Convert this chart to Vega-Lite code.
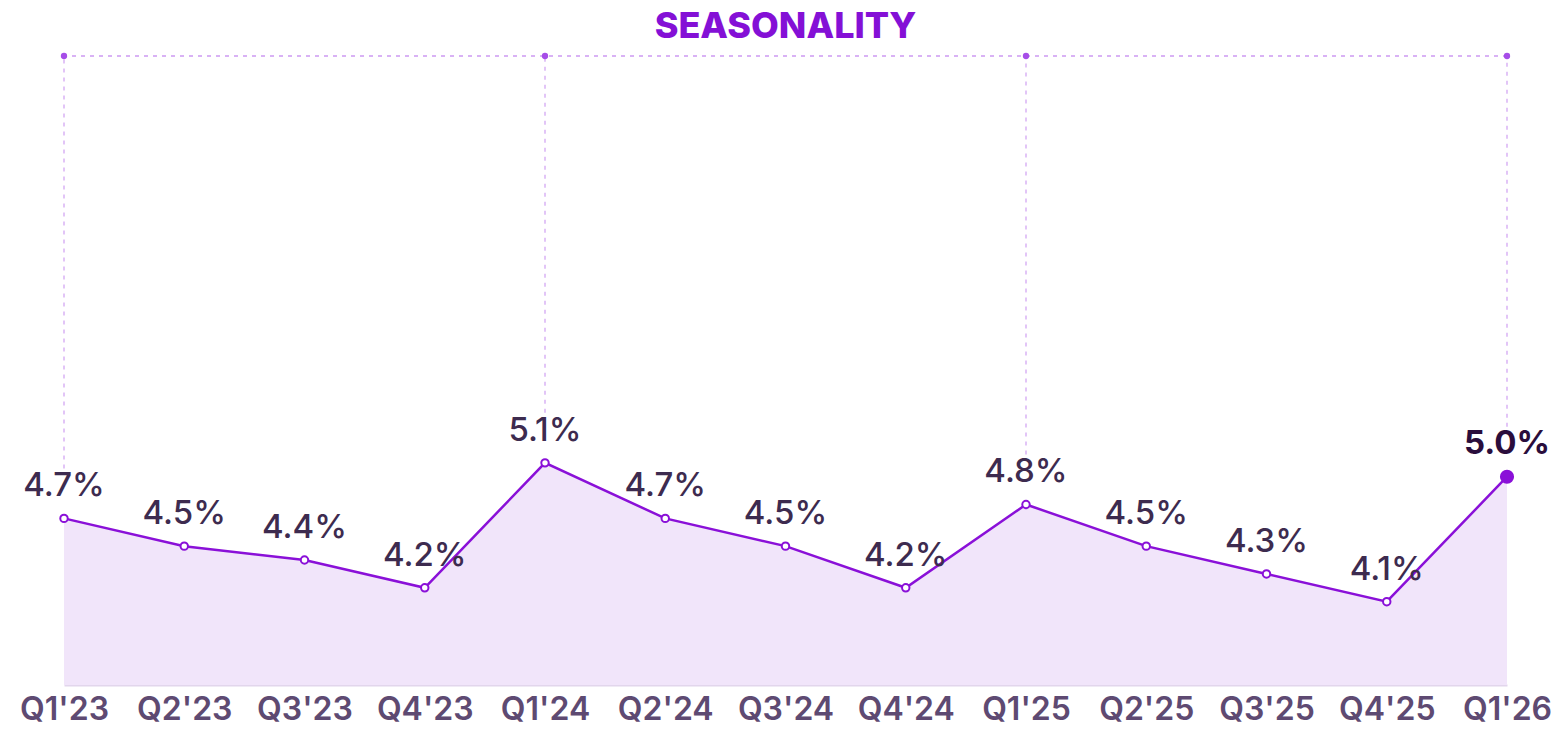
{
  "$schema": "https://vega.github.io/schema/vega-lite/v6.json",
  "width": 1443,
  "height": 629,
  "autosize": {"type": "none"},
  "padding": {"left": 64, "top": 56, "right": 50, "bottom": 48},
  "background": "white",
  "config": {"view": {"stroke": null}},
  "title": {
    "text": "SEASONALITY",
    "anchor": "middle",
    "frame": "group",
    "font": "Inter",
    "fontSize": 36,
    "fontWeight": 800,
    "color": "#8410d6",
    "offset": 7,
    "limit": 0
  },
  "data": {
    "values": [
      {"quarter": "Q1'23", "value": 4.7},
      {"quarter": "Q2'23", "value": 4.5},
      {"quarter": "Q3'23", "value": 4.4},
      {"quarter": "Q4'23", "value": 4.2},
      {"quarter": "Q1'24", "value": 5.1},
      {"quarter": "Q2'24", "value": 4.7},
      {"quarter": "Q3'24", "value": 4.5},
      {"quarter": "Q4'24", "value": 4.2},
      {"quarter": "Q1'25", "value": 4.8},
      {"quarter": "Q2'25", "value": 4.5},
      {"quarter": "Q3'25", "value": 4.3},
      {"quarter": "Q4'25", "value": 4.1},
      {"quarter": "Q1'26", "value": 5.0}
    ]
  },
  "transform": [
    {"calculate": "format(datum.value, '.1f') + '%'", "as": "label"}
  ],
  "encoding": {
    "x": {
      "field": "quarter",
      "type": "ordinal",
      "sort": null,
      "scale": {"type": "point", "padding": 0},
      "axis": {
        "title": null,
        "labelAngle": 0,
        "labelFont": "Inter",
        "labelFontSize": 32,
        "labelFontWeight": 600,
        "labelColor": "#5e4a72",
        "labelPadding": 9,
        "ticks": false,
        "grid": false,
        "domain": true,
        "domainColor": "#e2d6ec",
        "domainWidth": 2
      }
    }
  },
  "layer": [
    {
      "mark": {"type": "area", "color": "#f1e5fa"},
      "encoding": {
        "y": {"field": "value", "type": "quantitative", "scale": {"domain": [3.5, 8.03], "nice": false, "zero": false}, "axis": null},
        "y2": {"datum": 3.5}
      }
    },
    {
      "transform": [
        {"filter": {"field": "quarter", "oneOf": ["Q1'23", "Q1'24", "Q1'25", "Q1'26"]}},
        {"calculate": "datum.value + 0.36", "as": "rule_end"}
      ],
      "mark": {"type": "rule", "color": "#d9b3f5", "strokeWidth": 1.5, "strokeDash": [4, 5]},
      "encoding": {
        "y": {"field": "rule_end", "type": "quantitative"},
        "y2": {"datum": 8.03}
      }
    },
    {
      "mark": {"type": "rule", "color": "#d9b3f5", "strokeWidth": 1.5, "strokeDash": [4, 5]},
      "encoding": {
        "x": null,
        "y": {"datum": 8.03, "type": "quantitative"}
      }
    },
    {
      "transform": [
        {"filter": {"field": "quarter", "oneOf": ["Q1'23", "Q1'24", "Q1'25", "Q1'26"]}}
      ],
      "mark": {"type": "point", "filled": true, "color": "#a64de8", "size": 40, "opacity": 1},
      "encoding": {
        "y": {"datum": 8.03, "type": "quantitative"}
      }
    },
    {
      "mark": {"type": "line", "color": "#8a10d8", "strokeWidth": 2.5},
      "encoding": {
        "y": {"field": "value", "type": "quantitative"}
      }
    },
    {
      "transform": [{"filter": "datum.quarter != \"Q1'26\""}],
      "mark": {"type": "point", "filled": true, "fill": "white", "stroke": "#8a10d8", "strokeWidth": 2, "size": 55, "opacity": 1},
      "encoding": {
        "y": {"field": "value", "type": "quantitative"}
      }
    },
    {
      "transform": [{"filter": "datum.quarter == \"Q1'26\""}],
      "mark": {"type": "point", "filled": true, "color": "#8a10d8", "size": 200, "opacity": 1},
      "encoding": {
        "y": {"field": "value", "type": "quantitative"}
      }
    },
    {
      "transform": [{"filter": "datum.quarter != \"Q1'26\""}],
      "mark": {"type": "text", "font": "Inter", "fontSize": 33, "fontWeight": 500, "color": "#3d2b4f", "baseline": "alphabetic", "dy": -22},
      "encoding": {
        "y": {"field": "value", "type": "quantitative"},
        "text": {"field": "label", "type": "nominal"}
      }
    },
    {
      "transform": [{"filter": "datum.quarter == \"Q1'26\""}],
      "mark": {"type": "text", "font": "Inter", "fontSize": 33, "fontWeight": 700, "color": "#2a0d3c", "baseline": "alphabetic", "dy": -23},
      "encoding": {
        "y": {"field": "value", "type": "quantitative"},
        "text": {"field": "label", "type": "nominal"}
      }
    }
  ]
}
